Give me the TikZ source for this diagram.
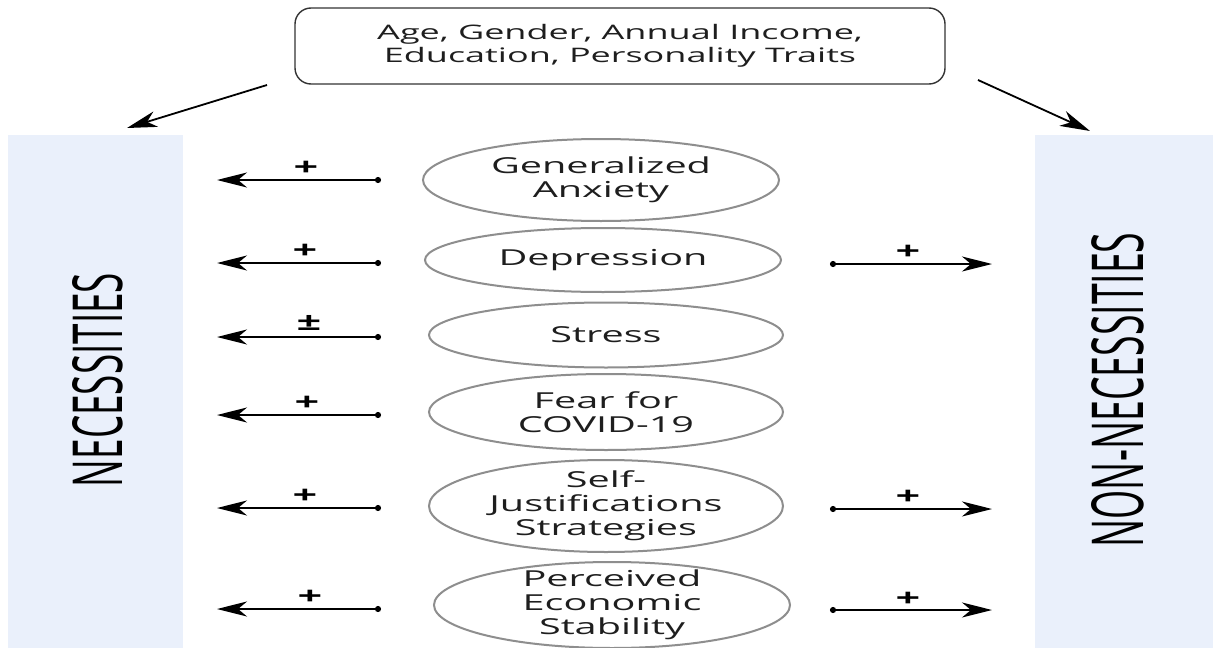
\documentclass[tikz,border=0pt]{standalone}
\usepackage{fontspec}
\setmainfont{Open Sans}[FakeStretch=1.8]
\newfontfamily\labelfont{Open Sans}
\usetikzlibrary{arrows.meta,shapes.geometric}
\definecolor{panelblue}{HTML}{EAF0FB}
\definecolor{ellgray}{HTML}{8E8E8E}
\definecolor{txt}{HTML}{1E1E1E}
\definecolor{boxline}{HTML}{333333}
\begin{document}
\begin{tikzpicture}[x=0.5pt,y=-0.5pt,
  factor/.style={ellipse, draw=ellgray, line width=1pt, inner sep=0},
  factortext/.style={align=center, inner sep=0, text=txt, font=\fontsize{11}{12}\selectfont},
  effect/.style={line width=1pt, {Circle[length=3pt]}-{Stealth[length=15pt,width=7.5pt,inset=4.5pt]}},
  toparrow/.style={line width=0.9pt, -{Stealth[length=15pt,width=8pt,inset=4.5pt]}},
  sign/.style={inner sep=0, text=black, font=\fontsize{12}{12}\selectfont\bfseries},
  sidelabel/.style={rotate=90, inner sep=0, text=black}]
\useasboundingbox (0,0) rectangle (1216,648);
\fill[white] (0,0) rectangle (1216,648);
% side panels
\fill[panelblue] (8,135) rectangle (183,648);
\fill[panelblue] (1035,135) rectangle (1213,648);
\node[sidelabel] (nec) at (98,380) {\resizebox{107pt}{25pt}{\labelfont NECESSITIES}};
\node[sidelabel] (nonnec) at (1118,390) {\resizebox{157.5pt}{26pt}{\labelfont NON-NECESSITIES}};
% top box
\node[draw=boxline, line width=0.7pt, rounded corners=8pt, minimum width=325pt, minimum height=38pt,
      align=center, inner sep=0, text=txt, font=\fontsize{10}{11.5}\selectfont] (demo) at (620,46)
      {Age, Gender, Annual Income,\\Education, Personality Traits};
\coordinate (tlA) at (267,85);
\coordinate (tlB) at (127,128);
\coordinate (trA) at (978,80);
\coordinate (trB) at (1090,131);
\draw[toparrow] (tlA) -- (tlB);
\draw[toparrow] (trA) -- (trB);
% ellipses
\node[factor, minimum width=178pt, minimum height=41pt] (ga) at (601,180) {};
\node[factortext] (gaT) at (ga) {Generalized\\Anxiety};
\node[factor, minimum width=178pt, minimum height=32pt] (de) at (603,260) {};
\node[factortext] (deT) at (de) {Depression};
\node[factor, minimum width=177pt, minimum height=32.5pt] (st) at (606,335) {};
\node[factortext] (stT) at (st) {Stress};
\node[factor, minimum width=177pt, minimum height=38pt] (fe) at (606,412) {};
\node[factortext] (feT) at (fe) {Fear for\\COVID-19};
\node[factor, minimum width=177pt, minimum height=46pt] (sj) at (606,506) {};
\node[factortext] (sjT) at (sj) {Self-\\Justifications\\Strategies};
\node[factor, minimum width=178pt, minimum height=43pt] (pe) at (612,605) {};
\node[factortext] (peT) at (pe) {Perceived\\Economic\\Stability};
% left effects
\foreach \n/\y in {ga/180, de/263, st/337, fe/415, sj/508, pe/609}{
  \coordinate (\n L1) at (381,\y);
  \coordinate (\n L2) at (217,\y);
  \draw[effect] (\n L1) -- (\n L2);
}
\node[sign] (gaS) at (306,168) {+};
\node[sign] (deS) at (305,251) {+};
\node[sign] (stS) at (309,323) {±};
\node[sign] (feS) at (307,403) {+};
\node[sign] (sjS) at (305,496) {+};
\node[sign] (peS) at (310,597) {+};
% right effects
\foreach \n/\y in {de/264, sj/509, pe/610}{
  \coordinate (\n R1) at (830,\y);
  \coordinate (\n R2) at (992,\y);
  \draw[effect] (\n R1) -- (\n R2);
}
\node[sign] (deRS) at (908,252) {+};
\node[sign] (sjRS) at (908,497) {+};
\node[sign] (peRS) at (908,599) {+};
\end{tikzpicture}
\end{document}
